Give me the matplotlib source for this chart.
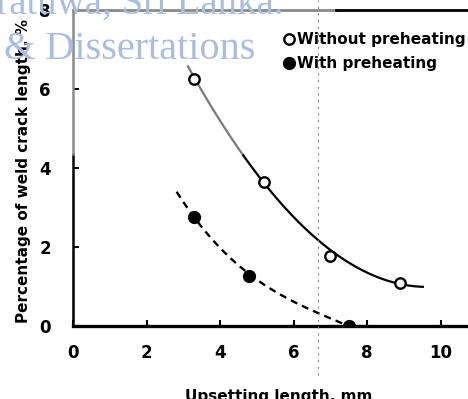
import numpy as np
import matplotlib
matplotlib.use("Agg")
import matplotlib.pyplot as plt

# data
x_without = [3.3, 5.2, 7.0, 8.9]
y_without = [6.25, 3.65, 1.78, 1.09]
x_with = [3.3, 4.8, 7.5]
y_with = [2.76, 1.27, 0.0]

# points along the drawn trend curves
curve1_x = [3.13, 3.3, 5.2, 7.0, 8.9, 9.52]
curve1_y = [6.6, 6.25, 3.65, 1.88, 1.12, 0.96]
curve2_x = [2.82, 3.3, 3.55, 3.82, 4.09, 4.36, 4.8, 5.18, 5.63, 6.09, 6.54, 6.99, 7.49]
curve2_y = [3.19, 2.76, 2.5, 2.24, 1.98, 1.72, 1.29, 1.1, 0.88, 0.66, 0.46, 0.25, 0.0]

xticks = [0, 2, 4, 6, 8, 10]
yticks = [0, 2, 4, 6, 8]

plt.rcParams['font.family'] = ['DejaVu Sans']
plt.rcParams['font.weight'] = 'bold'

fig = plt.figure(figsize=(4.68, 3.99), dpi=100)

# watermark (behind the chart)
fig.text(284 / 468, 1 - 14 / 399, 'University of Moratuwa, Sri Lanka.', ha='right',
         va='baseline', fontsize=28, family='Liberation Serif', color='#a9bde0',
         fontweight='normal', zorder=0)
fig.text(4 / 468, 1 - 59 / 399, '& Dissertations', ha='left', va='baseline',
         fontsize=29, family='Liberation Serif', color='#a9bde0',
         fontweight='normal', zorder=0)

ax = fig.add_axes([73 / 468, 73 / 399, 1 - 73 / 468, 316 / 399])
ax.patch.set_alpha(0)

# solid trend curve: smooth fit through the read points
c1 = np.polyfit(curve1_x, curve1_y, 3)
xs1 = np.linspace(curve1_x[0], curve1_x[-1], 120)
ys1 = np.polyval(c1, xs1)
split = 4.63
ax.plot(xs1[xs1 <= split + 0.05], ys1[xs1 <= split + 0.05], color='#7a7a7a', lw=1.6, zorder=2)
ax.plot(xs1[xs1 >= split], ys1[xs1 >= split], color='black', lw=1.6, zorder=2)

# dashed trend curve: smooth fit, held to the markers and the end point
w2 = [1 if x not in (3.3, 4.8, 7.49) else 5 for x in curve2_x]
c2 = np.polyfit(curve2_x, curve2_y, 3, w=w2)
xs2 = np.linspace(curve2_x[0], curve2_x[-1], 120)
ax.plot(xs2, np.polyval(c2, xs2), color='black', lw=1.7, ls=(0, (3, 2.2)), zorder=2)

ax.plot(x_without, y_without, 'o', mfc='white', mec='black', mew=1.7, ms=7.5,
        ls='none', label='Without preheating', zorder=3)
ax.plot(x_with, y_with, 'o', color='black', ms=8.5, ls='none',
        label='With preheating', zorder=3)

ax.set_xlim(0, (468 - 73) / 36.75)
ax.set_ylim(0, 8)
ax.set_xticks(xticks)
ax.set_yticks(yticks)
ax.tick_params(direction='in', length=4, width=1.5, labelsize=12, pad=13)
ax.tick_params(axis='y', pad=16)
for lab in ax.get_xticklabels() + ax.get_yticklabels():
    lab.set_fontweight('bold')

# spines: faded (grey) parts of the scan drawn separately
ax.spines['top'].set_visible(False)
ax.spines['right'].set_visible(False)
ax.spines['left'].set_visible(False)
ax.spines['bottom'].set_linewidth(2.4)
ax.axhline(8, 0, 0.665, color='#8a8a8a', lw=2.0, clip_on=False)
ax.axhline(8, 0.665, 1, color='black', lw=2.0, clip_on=False)
ax.axvline(0, 0, 0.545, color='black', lw=1.8, clip_on=False)
ax.axvline(0, 0.545, 1, color='#8a8a8a', lw=1.8, clip_on=False)

ax.set_xlabel('Upsetting length, mm', fontsize=11, fontweight='bold')
ax.xaxis.set_label_coords(0.52, -0.2)
ax.set_ylabel('Percentage of weld crack length, %', fontsize=11, fontweight='bold')
ax.yaxis.set_label_coords(-0.106, 0.49)

leg = ax.legend(loc='upper left', bbox_to_anchor=(0.515, 0.95), frameon=False,
                prop={'weight': 'bold', 'size': 11}, handletextpad=0.15,
                handlelength=0.8, labelspacing=0.6, borderaxespad=0)

# scan fold line
fig.add_artist(plt.Line2D([318 / 468, 318 / 468], [0.06, 1.0], color='#888888',
                          lw=0.8, ls=(0, (2, 4)), transform=fig.transFigure))

fig.savefig('out.png', dpi=100)
